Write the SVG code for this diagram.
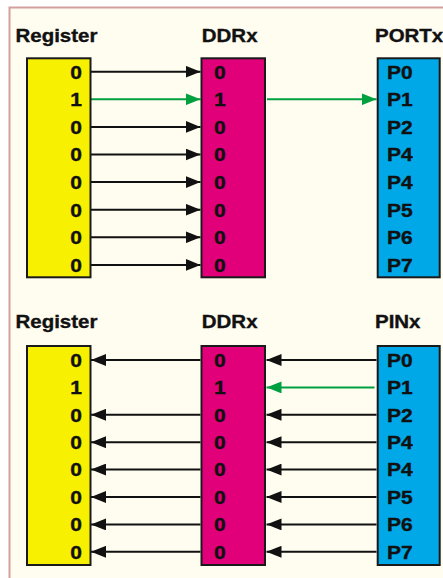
<svg xmlns="http://www.w3.org/2000/svg" width="443" height="578" viewBox="0 0 443 578">
<style>
text{font-family:"Liberation Sans",Arial,sans-serif;font-weight:bold;font-size:17.5px;fill:#111;stroke:#111;stroke-width:0.35}
.box{stroke:#1a1a1a;stroke-width:2}
.ar{stroke:#111;stroke-width:2;fill:none}
.gr{stroke:#00a040;stroke-width:2;fill:none}
.e{text-anchor:end}
</style>
<defs>
<marker id="ah" markerUnits="userSpaceOnUse" markerWidth="15" markerHeight="12" refX="15" refY="6" orient="auto"><path d="M0,0 L15,6 L0,12 z" fill="#111"/></marker>
<marker id="ahg" markerUnits="userSpaceOnUse" markerWidth="15" markerHeight="12" refX="15" refY="6" orient="auto"><path d="M0,0 L15,6 L0,12 z" fill="#00a040"/></marker>
</defs>
<rect width="443" height="578" fill="#fff"/>
<rect x="9.5" y="7.5" width="450" height="600" fill="#fffcf0" stroke="#d3a0a0" stroke-width="2"/>

<g id="connectors">
<line class="ar" x1="91" y1="71.7" x2="200.5" y2="71.7" marker-end="url(#ah)"/>
<line class="gr" x1="91" y1="99.3" x2="200.5" y2="99.3" marker-end="url(#ahg)"/>
<line class="ar" x1="91" y1="126.9" x2="200.5" y2="126.9" marker-end="url(#ah)"/>
<line class="ar" x1="91" y1="154.5" x2="200.5" y2="154.5" marker-end="url(#ah)"/>
<line class="ar" x1="91" y1="182.1" x2="200.5" y2="182.1" marker-end="url(#ah)"/>
<line class="ar" x1="91" y1="209.7" x2="200.5" y2="209.7" marker-end="url(#ah)"/>
<line class="ar" x1="91" y1="237.3" x2="200.5" y2="237.3" marker-end="url(#ah)"/>
<line class="ar" x1="91" y1="264.9" x2="200.5" y2="264.9" marker-end="url(#ah)"/>
<line class="gr" x1="267" y1="99.3" x2="376.5" y2="99.3" marker-end="url(#ahg)"/>

<line class="ar" x1="200.5" y1="360" x2="91" y2="360" marker-end="url(#ah)"/>
<line class="ar" x1="200.5" y1="414.8" x2="91" y2="414.8" marker-end="url(#ah)"/>
<line class="ar" x1="200.5" y1="442.2" x2="91" y2="442.2" marker-end="url(#ah)"/>
<line class="ar" x1="200.5" y1="469.6" x2="91" y2="469.6" marker-end="url(#ah)"/>
<line class="ar" x1="200.5" y1="497" x2="91" y2="497" marker-end="url(#ah)"/>
<line class="ar" x1="200.5" y1="524.4" x2="91" y2="524.4" marker-end="url(#ah)"/>
<line class="ar" x1="200.5" y1="551.8" x2="91" y2="551.8" marker-end="url(#ah)"/>

<line class="ar" x1="376.5" y1="360" x2="266.5" y2="360" marker-end="url(#ah)"/>
<line class="gr" x1="374.5" y1="387.4" x2="266.5" y2="387.4" marker-end="url(#ahg)"/>
<line class="ar" x1="376.5" y1="414.8" x2="266.5" y2="414.8" marker-end="url(#ah)"/>
<line class="ar" x1="376.5" y1="442.2" x2="266.5" y2="442.2" marker-end="url(#ah)"/>
<line class="ar" x1="376.5" y1="469.6" x2="266.5" y2="469.6" marker-end="url(#ah)"/>
<line class="ar" x1="376.5" y1="497" x2="266.5" y2="497" marker-end="url(#ah)"/>
<line class="ar" x1="376.5" y1="524.4" x2="266.5" y2="524.4" marker-end="url(#ah)"/>
<line class="ar" x1="376.5" y1="551.8" x2="266.5" y2="551.8" marker-end="url(#ah)"/>
</g>

<g id="register-top">
<text transform="translate(15.5,41.7) scale(1.17,1)">Register</text>
<rect class="box" x="27" y="58.3" width="63.5" height="219" fill="#f7f000"/>
<text class="e" transform="translate(82,78.5) scale(1.2,1)">0</text>
<text class="e" transform="translate(82,106.1) scale(1.2,1)">1</text>
<text class="e" transform="translate(82,133.7) scale(1.2,1)">0</text>
<text class="e" transform="translate(82,161.3) scale(1.2,1)">0</text>
<text class="e" transform="translate(82,188.9) scale(1.2,1)">0</text>
<text class="e" transform="translate(82,216.5) scale(1.2,1)">0</text>
<text class="e" transform="translate(82,244.1) scale(1.2,1)">0</text>
<text class="e" transform="translate(82,271.7) scale(1.2,1)">0</text>
</g>

<g id="ddrx-top">
<text transform="translate(201.8,41.7) scale(1.17,1)">DDRx</text>
<rect class="box" x="201.5" y="58.3" width="63.5" height="219" fill="#e2007a"/>
<text transform="translate(214,78.5) scale(1.2,1)">0</text>
<text transform="translate(214,106.1) scale(1.2,1)">1</text>
<text transform="translate(214,133.7) scale(1.2,1)">0</text>
<text transform="translate(214,161.3) scale(1.2,1)">0</text>
<text transform="translate(214,188.9) scale(1.2,1)">0</text>
<text transform="translate(214,216.5) scale(1.2,1)">0</text>
<text transform="translate(214,244.1) scale(1.2,1)">0</text>
<text transform="translate(214,271.7) scale(1.2,1)">0</text>
</g>

<g id="portx">
<text transform="translate(375,41.7) scale(1.17,1)">PORTx</text>
<rect class="box" x="377.7" y="58.3" width="62" height="219" fill="#00a8e8"/>
<text transform="translate(387,78.5) scale(1.2,1)">P0</text>
<text transform="translate(387,106.1) scale(1.2,1)">P1</text>
<text transform="translate(387,133.7) scale(1.2,1)">P2</text>
<text transform="translate(387,161.3) scale(1.2,1)">P4</text>
<text transform="translate(387,188.9) scale(1.2,1)">P4</text>
<text transform="translate(387,216.5) scale(1.2,1)">P5</text>
<text transform="translate(387,244.1) scale(1.2,1)">P6</text>
<text transform="translate(387,271.7) scale(1.2,1)">P7</text>
</g>

<g id="register-bottom">
<text transform="translate(15.5,327.7) scale(1.17,1)">Register</text>
<rect class="box" x="27" y="346" width="63.5" height="219" fill="#f7f000"/>
<text class="e" transform="translate(82,366.8) scale(1.2,1)">0</text>
<text class="e" transform="translate(82,394.2) scale(1.2,1)">1</text>
<text class="e" transform="translate(82,421.6) scale(1.2,1)">0</text>
<text class="e" transform="translate(82,449) scale(1.2,1)">0</text>
<text class="e" transform="translate(82,476.4) scale(1.2,1)">0</text>
<text class="e" transform="translate(82,503.8) scale(1.2,1)">0</text>
<text class="e" transform="translate(82,531.2) scale(1.2,1)">0</text>
<text class="e" transform="translate(82,558.6) scale(1.2,1)">0</text>
</g>

<g id="ddrx-bottom">
<text transform="translate(201.8,327.7) scale(1.17,1)">DDRx</text>
<rect class="box" x="201.5" y="346" width="63.5" height="219" fill="#e2007a"/>
<text transform="translate(214,366.8) scale(1.2,1)">0</text>
<text transform="translate(214,394.2) scale(1.2,1)">1</text>
<text transform="translate(214,421.6) scale(1.2,1)">0</text>
<text transform="translate(214,449) scale(1.2,1)">0</text>
<text transform="translate(214,476.4) scale(1.2,1)">0</text>
<text transform="translate(214,503.8) scale(1.2,1)">0</text>
<text transform="translate(214,531.2) scale(1.2,1)">0</text>
<text transform="translate(214,558.6) scale(1.2,1)">0</text>
</g>

<g id="pinx">
<text transform="translate(375,327.7) scale(1.17,1)">PINx</text>
<rect class="box" x="377.7" y="346" width="62" height="219" fill="#00a8e8"/>
<text transform="translate(387,366.8) scale(1.2,1)">P0</text>
<text transform="translate(387,394.2) scale(1.2,1)">P1</text>
<text transform="translate(387,421.6) scale(1.2,1)">P2</text>
<text transform="translate(387,449) scale(1.2,1)">P4</text>
<text transform="translate(387,476.4) scale(1.2,1)">P4</text>
<text transform="translate(387,503.8) scale(1.2,1)">P5</text>
<text transform="translate(387,531.2) scale(1.2,1)">P6</text>
<text transform="translate(387,558.6) scale(1.2,1)">P7</text>
</g>
</svg>
